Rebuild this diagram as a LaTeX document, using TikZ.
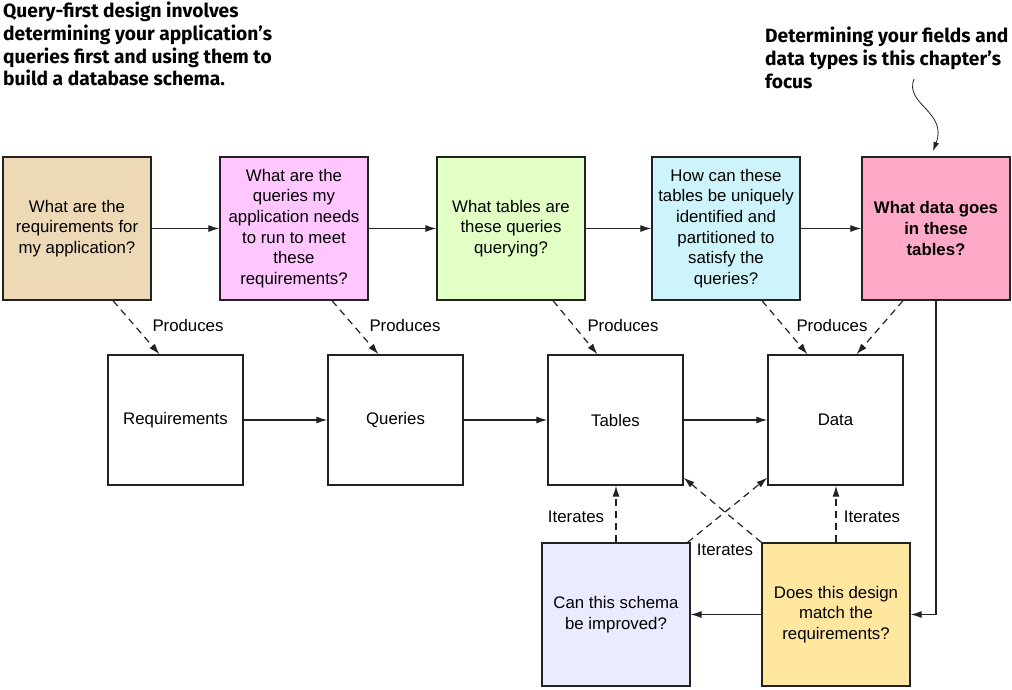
\documentclass[tikz,border=0pt]{standalone}
\usepackage{fontspec}
\setmainfont{Liberation Sans}
\newfontfamily\titlefont{Fira Sans}
\usetikzlibrary{arrows.meta}
\definecolor{cA}{HTML}{EED9B7}
\definecolor{cB}{HTML}{FFC6FF}
\definecolor{cC}{HTML}{E2FFC6}
\definecolor{cD}{HTML}{CCF4FA}
\definecolor{cE}{HTML}{FFA8C8}
\definecolor{cF}{HTML}{EBEBFF}
\definecolor{cG}{HTML}{FFE7A0}
\definecolor{edge}{HTML}{222222}
\tikzset{
  boxtxt/.style={font=\fontsize{16.8}{20.6}\selectfont},
  qbox/.style={draw=edge, line width=1.3pt, minimum width=148pt, minimum height=143pt, inner sep=0pt, align=center, boxtxt},
  mbox/.style={draw=edge, line width=1.3pt, minimum width=135pt, minimum height=130pt, inner sep=0pt, align=center, boxtxt},
  arr/.style={-{Latex[length=11pt,width=7pt]}, line width=1.2pt, draw=edge},
  darr/.style={arr, dash pattern=on 7pt off 5pt},
  lbl/.style={boxtxt, inner sep=0pt},
  ttl/.style={font=\titlefont\bfseries\fontsize{19.2}{22.7}\selectfont, align=left, inner sep=0pt, anchor=north west}
}
\begin{document}
\begin{tikzpicture}[x=1pt,y=-1pt]
\useasboundingbox (0,0) rectangle (1012,689);
% titles
\node[ttl] (t1) at (3,2) {Query-first design involves\\determining your application’s\\queries first and using them to\\build a database schema.};
\node[ttl] (t2) at (765,27) {Determining your fields and\\data types is this chapter’s\\focus};
% top row
\node[qbox, fill=cA] (b1) at (77,228.5) {What are the\\requirements for\\my application?};
\node[qbox, fill=cB] (b2) at (294,228.5) {What are the\\queries my\\application needs\\to run to meet\\these\\requirements?};
\node[qbox, fill=cC] (b3) at (511,228.5) {What tables are\\these queries\\querying?};
\node[qbox, fill=cD] (b4) at (726,228.5) {How can these\\tables be uniquely\\identified and\\partitioned to\\satisfy the\\queries?};
\node[qbox, fill=cE, font=\bfseries\fontsize{16.8}{20.6}\selectfont] (b5) at (936,228.5) {What data goes\\in these\\tables?};
% middle row
\node[mbox] (req) at (175.5,420) {Requirements};
\node[mbox] (qry) at (395.5,420) {Queries};
\node[mbox] (tab) at (615.5,420) {Tables};
\node[mbox] (dat) at (835.5,420) {Data};
% bottom row
\node[qbox, fill=cF] (can) at (616,614.5) {Can this schema\\be improved?};
\node[qbox, fill=cG] (does) at (836,614.5) {Does this design\\match the\\requirements?};
% top arrows
\draw[arr] (b1) -- (b2);
\draw[arr] (b2) -- (b3);
\draw[arr] (b3) -- (b4);
\draw[arr] (b4) -- (b5);
% middle arrows
\draw[arr] (req) -- (qry);
\draw[arr] (qry) -- (tab);
\draw[arr] (tab) -- (dat);
% produces
\draw[darr] ([xshift=36pt]b1.south) -- ([xshift=-16pt]req.north);
\draw[darr] ([xshift=38pt]b2.south) -- ([xshift=-17pt]qry.north);
\draw[darr] ([xshift=42pt]b3.south) -- ([xshift=-18pt]tab.north);
\draw[darr] ([xshift=36pt]b4.south) -- ([xshift=-28pt]dat.north);
\draw[darr] ([xshift=-33pt]b5.south) -- ([xshift=21pt]dat.north);
\node[lbl] (p1) at (188,325) {Produces};
\node[lbl] (p2) at (405,325) {Produces};
\node[lbl] (p3) at (623,325) {Produces};
\node[lbl] (p4) at (832,325) {Produces};
% right side loop
\draw[arr] (b5.south) |- (does.east);
\draw[arr] (does.west) -- (can.east);
% iterates
\draw[darr] (can.north) -- (can.north |- tab.south);
\draw[darr] (does.north) -- (does.north |- dat.south);
\draw[darr] ([xshift=-3pt]can.north east) -- ([yshift=8pt]dat.south west);
\draw[darr] (does.north west) -- ([yshift=8pt]tab.south east);
\node[lbl] (i1) at (576,517) {Iterates};
\node[lbl] (i2) at (872,517) {Iterates};
\node[lbl] (i3) at (725,550) {Iterates};
% curly pointer
\coordinate (cs) at (914,79);
\coordinate (ce) at (933,151);
\draw[-{Latex[length=9pt,width=6pt]}, line width=0.8pt, draw=edge] (cs) .. controls (904,104) and (948,112) .. (ce);
\end{tikzpicture}
\end{document}
